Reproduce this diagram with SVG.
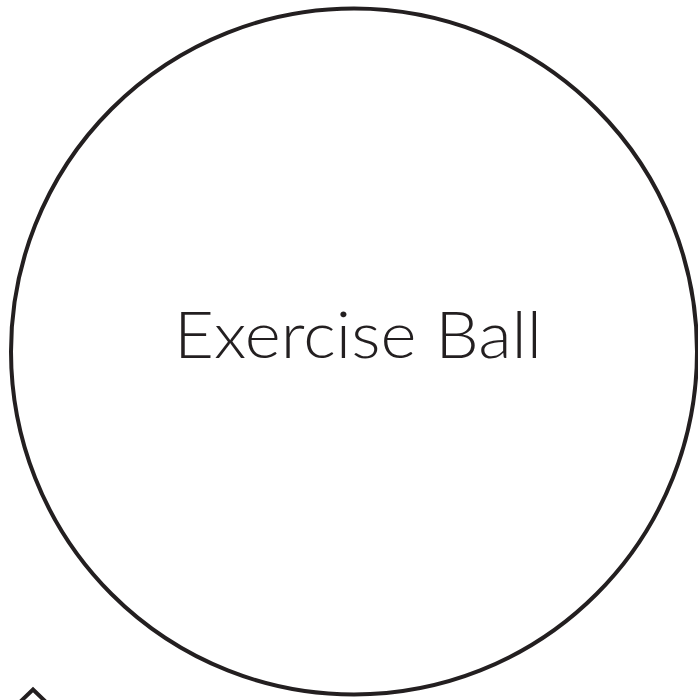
<svg xmlns="http://www.w3.org/2000/svg" width="698" height="700" viewBox="0 0 698 700">
<style>
.ln{fill:none;stroke:#231f20;stroke-width:4}
.lbl{font-family:Lato,"Liberation Sans",Arial,sans-serif;font-weight:300;font-size:65px;fill:#231f20}
</style>
<rect width="698" height="700" fill="#ffffff"/>
<g id="ball">
<circle class="ln" cx="354" cy="351.5" r="343"/>
<text class="lbl" x="174" y="358" textLength="368" lengthAdjust="spacingAndGlyphs">Exercise Ball</text>
</g>
<g id="corner-shape">
<polyline class="ln" points="19,703 33,689.5 47,703"/>
</g>
</svg>
